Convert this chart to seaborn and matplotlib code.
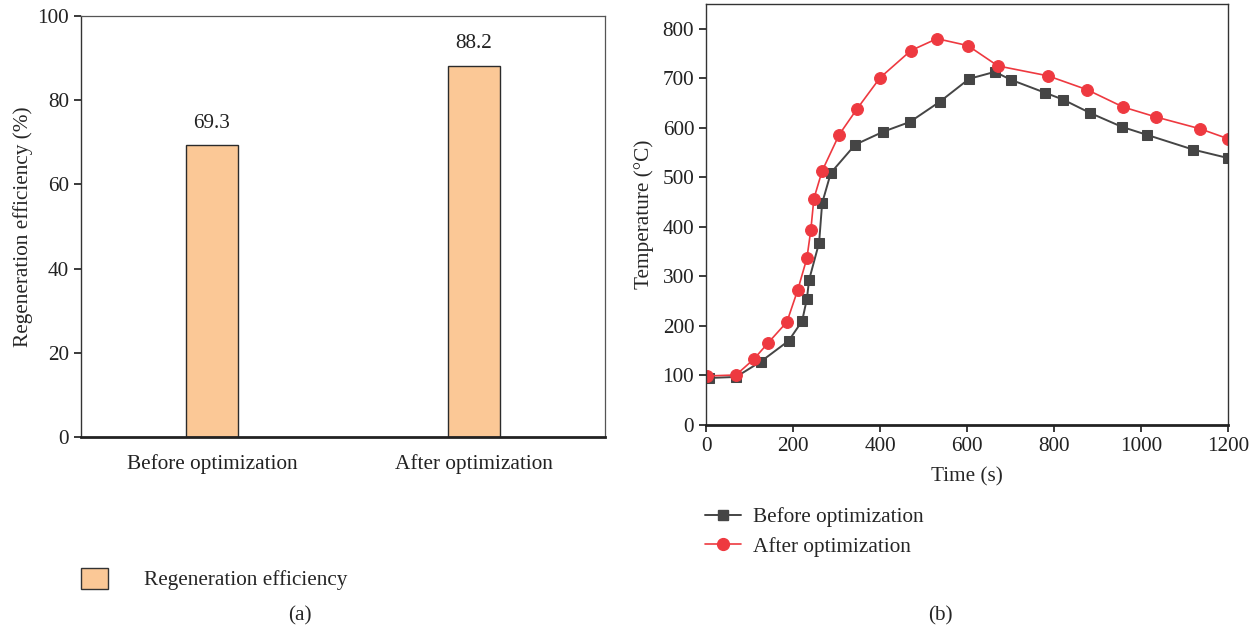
import matplotlib
matplotlib.use("Agg")
import matplotlib.pyplot as plt
import seaborn as sns
import pandas as pd
from matplotlib.lines import Line2D
from matplotlib.patches import Patch

# ---- data ----
categories = ["Before optimization", "After optimization"]
efficiency = [69.3, 88.2]

before_time = [7, 69, 126, 190, 221, 232, 237, 260, 267, 287, 343, 407, 469, 538,
               605, 664, 701, 779, 821, 883, 956, 1013, 1120, 1200]
before_temp = [95, 97, 128, 170, 210, 255, 293, 368, 448, 509, 566, 592, 612, 653,
               699, 713, 697, 671, 657, 630, 602, 586, 556, 539]
after_time = [2, 69, 110, 143, 186, 211, 232, 241, 248, 267, 306, 347, 400, 471,
              531, 602, 671, 786, 876, 959, 1034, 1136, 1200]
after_temp = [99, 101, 133, 166, 208, 273, 337, 394, 457, 513, 586, 638, 701, 756,
              780, 766, 725, 705, 677, 642, 622, 598, 578]

sns.set_theme(style="white")
plt.rcParams['font.family'] = ['Liberation Serif', 'DejaVu Serif']
plt.rcParams['mathtext.fontset'] = 'stix'
FS = 15.3

fig = plt.figure(figsize=(12.59, 6.33), dpi=100)
W, H = 1259, 633
def ax_rect(l, t, r, b):
    return [l / W, 1 - b / H, (r - l) / W, (b - t) / H]

# ---- (a) bar chart ----
ax1 = fig.add_axes(ax_rect(81, 16, 605, 437))
df_bar = pd.DataFrame({"cat": categories, "val": efficiency})
sns.barplot(data=df_bar, x="cat", y="val", ax=ax1, color="#FBC896",
            width=0.2, edgecolor="#2b2b2b", linewidth=1.0, saturation=1)
ax1.set_xlim(-0.5, 1.5)
ax1.set_ylim(0, 100)
ax1.set_yticks([0, 20, 40, 60, 80, 100])
ax1.set_xlabel("")
ax1.set_ylabel("Regeneration efficiency (%)", fontsize=FS, labelpad=3)
for i, v in enumerate(efficiency):
    ax1.text(i, v + 3, f"{v}", ha="center", va="bottom", fontsize=FS, color="#222222")
ax1.tick_params(axis="y", left=True, direction="out", length=5, labelsize=FS, colors="#222222")
ax1.tick_params(axis="x", bottom=False, labelsize=FS, pad=6, colors="#222222")
for s in ["top", "right"]:
    ax1.spines[s].set_color("#555555")
    ax1.spines[s].set_linewidth(0.9)
ax1.spines["left"].set_color("#333333")
ax1.spines["left"].set_linewidth(1.0)
ax1.spines["bottom"].set_color("#222222")
ax1.spines["bottom"].set_linewidth(2.0)

fig.legend(handles=[Patch(facecolor="#FBC896", edgecolor="#333333", linewidth=1.0,
                          label="Regeneration efficiency")],
           loc="center left", bbox_to_anchor=(62 / W, 1 - 579 / H), frameon=False,
           fontsize=FS, handlelength=1.25, handleheight=1.15, handletextpad=1.7)

# ---- (b) line chart ----
ax2 = fig.add_axes(ax_rect(706, 4, 1228, 425))
df_b = pd.DataFrame({"t": before_time, "T": before_temp})
df_a = pd.DataFrame({"t": after_time, "T": after_temp})
black = "#454545"
red = "#EE3940"
sns.lineplot(data=df_b, x="t", y="T", ax=ax2, sort=False, color=black, lw=1.4,
             marker="s", markersize=7.5, markeredgecolor=black, markerfacecolor=black)
sns.lineplot(data=df_a, x="t", y="T", ax=ax2, sort=False, color=red, lw=1.2,
             marker="o", markersize=8.5, markeredgecolor=red, markerfacecolor=red)
ax2.set_xlim(0, 1200)
ax2.set_ylim(0, 850)
ax2.set_xticks([0, 200, 400, 600, 800, 1000, 1200])
ax2.set_yticks([0, 100, 200, 300, 400, 500, 600, 700, 800])
ax2.set_xlabel("Time (s)", fontsize=FS, labelpad=8)
ax2.set_ylabel("Temperature (°C)", fontsize=FS, labelpad=6)
ax2.tick_params(axis="both", left=True, bottom=True, direction="out", length=5,
                labelsize=FS, colors="#222222")
for s in ["top", "right", "left"]:
    ax2.spines[s].set_color("#333333")
    ax2.spines[s].set_linewidth(1.0)
ax2.spines["bottom"].set_color("#222222")
ax2.spines["bottom"].set_linewidth(2.0)

handles = [Line2D([0], [0], color=black, lw=1.4, marker="s", markersize=7.5,
                  label="Before optimization"),
           Line2D([0], [0], color=red, lw=1.2, marker="o", markersize=8.5,
                  label="After optimization")]
fig.legend(handles=handles, loc="center left", bbox_to_anchor=(686 / W, 1 - 532 / H),
           frameon=False, fontsize=FS, handlelength=1.7, handletextpad=0.55,
           labelspacing=0.45)

fig.text(300 / W, 1 - 616 / H, "(a)", ha="center", va="center", fontsize=FS)
fig.text(940 / W, 1 - 616 / H, "(b)", ha="center", va="center", fontsize=FS)

fig.savefig("out.png", dpi=100)
